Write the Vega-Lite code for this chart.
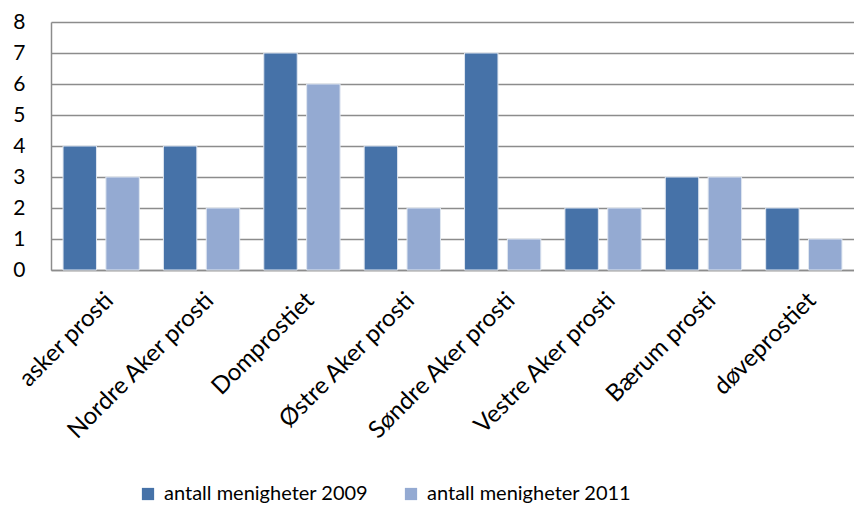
{
  "$schema": "https://vega.github.io/schema/vega-lite/v6.json",
  "width": 803,
  "height": 248,
  "autosize": {"type": "none"},
  "padding": {"left": 51, "top": 22, "right": 0, "bottom": 238},
  "background": "white",
  "config": {
    "view": {"stroke": null},
    "font": "Lato"
  },
  "data": {
    "values": [
      {"prosti": "asker prosti", "serie": "antall menigheter 2009", "antall": 4},
      {"prosti": "asker prosti", "serie": "antall menigheter 2011", "antall": 3},
      {"prosti": "Nordre Aker prosti", "serie": "antall menigheter 2009", "antall": 4},
      {"prosti": "Nordre Aker prosti", "serie": "antall menigheter 2011", "antall": 2},
      {"prosti": "Domprostiet", "serie": "antall menigheter 2009", "antall": 7},
      {"prosti": "Domprostiet", "serie": "antall menigheter 2011", "antall": 6},
      {"prosti": "Østre Aker prosti", "serie": "antall menigheter 2009", "antall": 4},
      {"prosti": "Østre Aker prosti", "serie": "antall menigheter 2011", "antall": 2},
      {"prosti": "Søndre Aker prosti", "serie": "antall menigheter 2009", "antall": 7},
      {"prosti": "Søndre Aker prosti", "serie": "antall menigheter 2011", "antall": 1},
      {"prosti": "Vestre Aker prosti", "serie": "antall menigheter 2009", "antall": 2},
      {"prosti": "Vestre Aker prosti", "serie": "antall menigheter 2011", "antall": 2},
      {"prosti": "Bærum prosti", "serie": "antall menigheter 2009", "antall": 3},
      {"prosti": "Bærum prosti", "serie": "antall menigheter 2011", "antall": 3},
      {"prosti": "døveprostiet", "serie": "antall menigheter 2009", "antall": 2},
      {"prosti": "døveprostiet", "serie": "antall menigheter 2011", "antall": 1}
    ]
  },
  "mark": {"type": "bar", "stroke": "#dfe6f0", "strokeWidth": 1},
  "encoding": {
    "x": {
      "field": "prosti",
      "type": "nominal",
      "sort": null,
      "scale": {"paddingInner": 0.24, "paddingOuter": 0.12},
      "axis": {
        "title": null,
        "labelAngle": -45,
        "labelFontSize": 24,
        "labelColor": "#000000",
        "labelPadding": 18,
        "labelLimit": 400,
        "ticks": false,
        "domainColor": "#8c8c8c",
        "domainWidth": 1.5,
        "grid": false
      }
    },
    "xOffset": {
      "field": "serie",
      "type": "nominal",
      "scale": {"paddingInner": 0.22}
    },
    "y": {
      "field": "antall",
      "type": "quantitative",
      "scale": {"domain": [0, 8], "nice": false},
      "axis": {
        "title": null,
        "values": [0, 1, 2, 3, 4, 5, 6, 7, 8],
        "labelFontSize": 21,
        "labelColor": "#000000",
        "labelPadding": 26,
        "ticks": false,
        "domainColor": "#8c8c8c",
        "domainWidth": 1.5,
        "gridColor": "#8c8c8c",
        "gridWidth": 1.5,
        "gridOpacity": 1
      }
    },
    "color": {
      "field": "serie",
      "type": "nominal",
      "scale": {"range": ["#4672A8", "#94AAD2"]},
      "legend": {
        "title": null,
        "orient": "none",
        "direction": "horizontal",
        "legendX": 87,
        "legendY": 462,
        "symbolType": "square",
        "symbolSize": 150,
        "symbolStrokeWidth": 0,
        "symbolOpacity": 1,
        "labelFontSize": 20,
        "labelColor": "#000000",
        "labelOffset": 6,
        "columnPadding": 32,
        "labelLimit": 400
      }
    }
  }
}
